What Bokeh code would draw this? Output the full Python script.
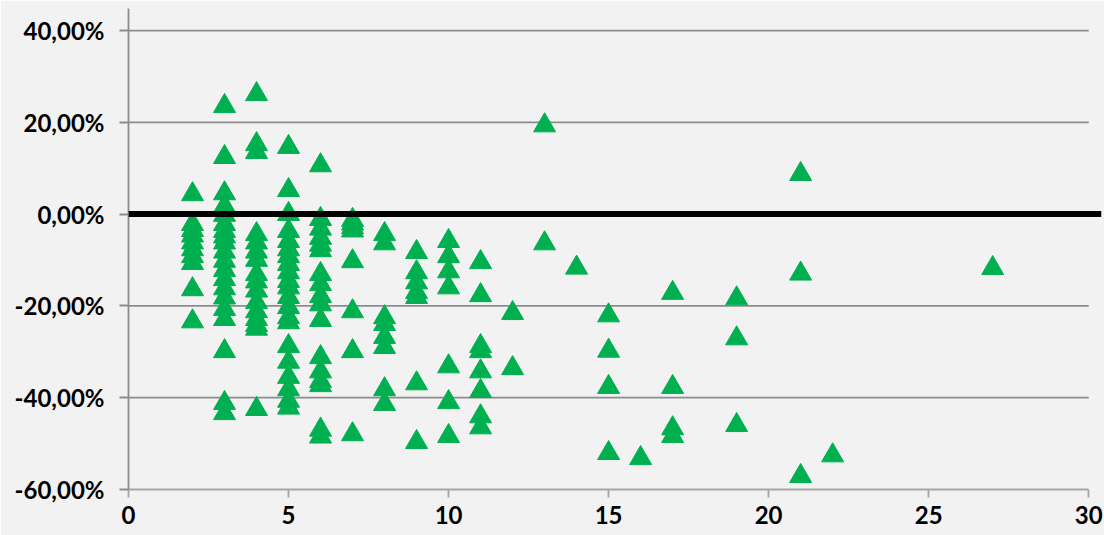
from bokeh.plotting import figure
from bokeh.models import Range1d, FixedTicker, ColumnDataSource, Span
from bokeh.transform import dodge
from bokeh.embed import file_html
from bokeh.resources import INLINE

# ---- data ----
X_VALUES = (
    [2] * 10 + [3] * 20 + [4] * 16 + [5] * 21 + [6] * 17 + [7] * 8 + [8] * 8 +
    [9] * 7 + [10] * 7 + [11] * 8 + [12] * 2 + [13] * 2 + [14] + [15] * 4 +
    [16] + [17] * 4 + [19] * 3 + [21] * 3 + [22] + [27]
)
Y_VALUES = [
    # x = 2
    5.0, -1.5, -2.8, -4.0, -5.5, -7.0, -8.5, -10.0, -15.7, -22.7,
    # x = 3
    24.2, 13.1, 5.2, 2.4, 0.5, -1.5, -3.0, -4.2, -5.5, -7.5, -9.5, -11.5,
    -13.5, -15.5, -17.5, -20.0, -22.2, -29.2, -40.5, -42.7,
    # x = 4
    26.8, 15.9, 14.2, -3.7, -5.5, -7.5, -9.3, -12.4, -14.0, -16.0, -18.5,
    -20.5, -22.2, -23.5, -24.3, -41.8,
    # x = 5
    15.3, 5.9, 0.7, -3.0, -5.2, -7.0, -8.5, -10.2, -12.0, -13.9, -15.3,
    -17.4, -19.6, -21.8, -22.9, -28.1, -31.5, -34.8, -37.5, -40.0, -41.5,
    # x = 6
    11.3, -0.4, -2.5, -4.5, -6.0, -7.2, -12.4, -14.6, -17.2, -19.0, -22.4,
    -30.5, -33.6, -35.7, -36.6, -46.3, -47.8,
    # x = 7
    -0.6, -1.4, -2.2, -2.9, -9.6, -20.5, -29.2, -47.3,
    # x = 8
    -3.7, -5.7, -21.8, -23.3, -26.1, -28.3, -37.5, -40.7,
    # x = 9
    -7.6, -12.0, -14.2, -16.3, -17.4, -36.2, -49.0,
    # x = 10
    -5.2, -8.5, -11.8, -15.3, -32.5, -40.3, -47.7,
    # x = 11
    -9.8, -17.0, -28.1, -29.2, -33.6, -37.9, -43.4, -45.8,
    # x = 12
    -20.9, -32.9,
    # x = 13
    20.0, -5.7,
    # x = 14
    -11.0,
    # x = 15
    -21.4, -29.1, -37.0, -51.4,
    # x = 16
    -52.5,
    # x = 17
    -16.5, -37.0, -46.0, -47.7,
    # x = 19
    -17.7, -26.4, -45.3,
    # x = 21
    9.4, -12.3, -56.4,
    # x = 22
    -51.9,
    # x = 27
    -11.1,
]

Y_TICKS = [-60, -40, -20, 0, 20, 40]
Y_TICK_LABELS = ["-60,00%", "-40,00%", "-20,00%", "0,00%", "20,00%", "40,00%"]
X_TICKS = [0, 5, 10, 15, 20, 25, 30]
X_MIN, X_MAX = 0, 30
Y_MIN, Y_MAX = -60, 44.8

BG = "#F2F2F2"
GREEN = "#00B050"
GRID = "#8C8C8C"
FONT = "Lato"

p = figure(
    width=1104, height=535,
    x_range=Range1d(X_MIN, 30.4), y_range=Range1d(Y_MIN, Y_MAX),
    output_backend="svg", toolbar_location=None,
    min_border_left=128, min_border_right=3, min_border_top=8, min_border_bottom=46,
)
p.background_fill_color = BG
p.border_fill_color = BG
p.outline_line_color = None
p.xgrid.visible = False
p.ygrid.visible = False

# horizontal gridlines, limited to the axis extent
grid_src = ColumnDataSource(dict(
    y=[t for t in Y_TICKS if t not in (Y_MIN, 0)],
    x0=[X_MIN] * 4, x1=[X_MAX] * 4,
))
p.segment(x0="x0", x1="x1", y0="y", y1="y", source=grid_src,
          line_color=GRID, line_width=1.8)

src = ColumnDataSource(dict(x=X_VALUES, y=Y_VALUES))
p.scatter(x="x", y=dodge("y", -0.69, range=p.y_range), source=src,
          marker="triangle", size=22, fill_color=GREEN, line_color=GREEN,
          line_width=1)

p.add_layout(Span(location=0, dimension="width", line_color="black", line_width=6))

# y axis
ya = p.yaxis[0]
ya.ticker = FixedTicker(ticks=Y_TICKS)
ya.major_label_overrides = dict(zip(Y_TICKS, Y_TICK_LABELS))
ya.axis_line_color = GRID
ya.axis_line_width = 1.8
ya.major_tick_line_color = GRID
ya.major_tick_line_width = 1.8
ya.major_tick_out = 9
ya.major_tick_in = 0
ya.minor_tick_line_color = None
ya.major_label_standoff = 15
ya.major_label_text_font = FONT
ya.major_label_text_font_style = "bold"
ya.major_label_text_font_size = "24px"
ya.major_label_text_color = "black"

# x axis
xa = p.xaxis[0]
xa.ticker = FixedTicker(ticks=X_TICKS)
xa.bounds = (X_MIN, X_MAX)
xa.axis_line_color = "#A6A6A6"
xa.axis_line_width = 1.8
xa.major_tick_line_color = "#A6A6A6"
xa.major_tick_line_width = 1.8
xa.major_tick_out = 8
xa.major_tick_in = 0
xa.minor_tick_line_color = None
xa.major_label_standoff = 8
xa.major_label_text_font = FONT
xa.major_label_text_font_style = "bold"
xa.major_label_text_font_size = "24px"
xa.major_label_text_color = "black"

open("out.html", "w").write(file_html(p, INLINE))
